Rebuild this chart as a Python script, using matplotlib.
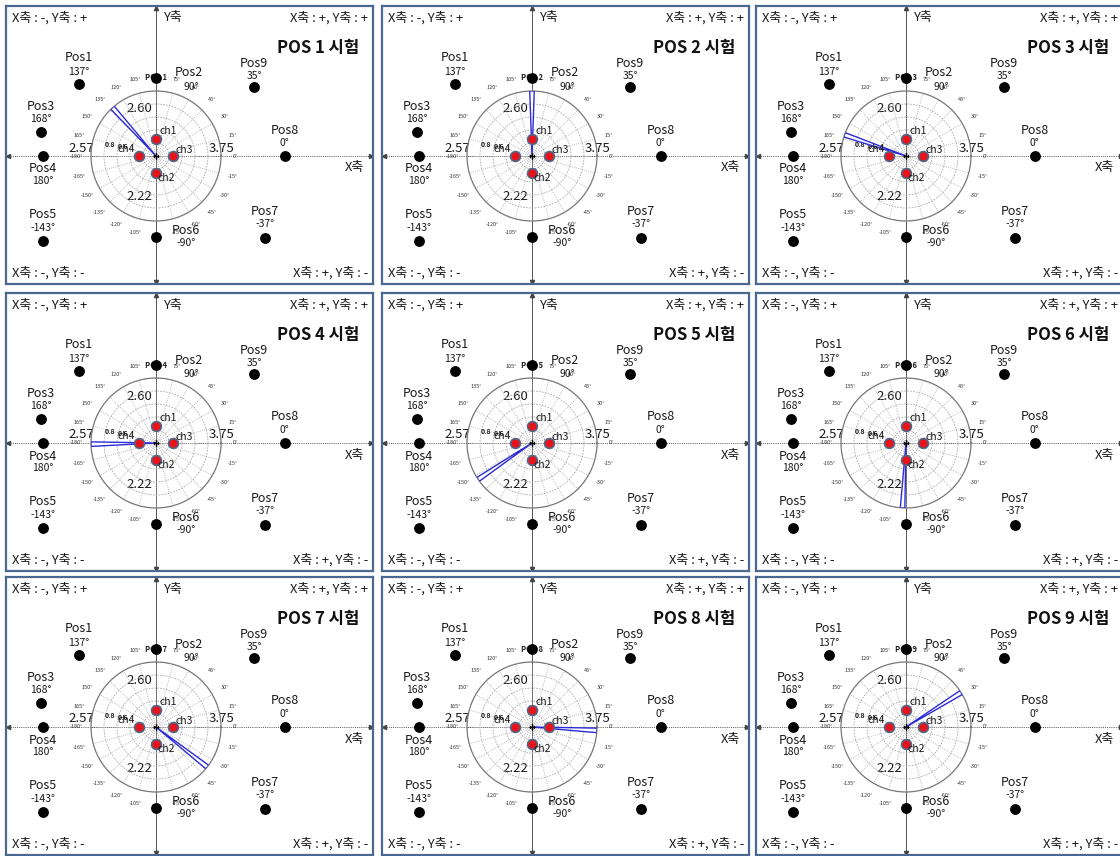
import numpy as np
import matplotlib
matplotlib.use("Agg")
import matplotlib.pyplot as plt

plt.rcParams['font.family'] = ['Noto Sans CJK KR', 'DejaVu Sans']

#####################################

# DATA

pos_names = ['Pos1', 'Pos2', 'Pos3', 'Pos4', 'Pos5', 'Pos6', 'Pos7', 'Pos8', 'Pos9']
pos_angle = [137, 90, 168, 180, -143, -90, -37, 0, 35]           # degrees
pos_dist = [1.63, 1.20, 1.81, 1.74, 2.17, 1.25, 2.10, 1.98, 1.84]  # in polar radius units

ch_names = ['ch1', 'ch2', 'ch3', 'ch4']
ch_angle = [90, -90, 0, 180]
ch_dist = [0.26, 0.26, 0.26, 0.26]
ch_values = ['2.60', '2.22', '3.75', '2.57']

test_titles = ['POS %d 시험' % (i + 1) for i in range(9)]
measured_angle = [132, 90, 161, -179, -146, -93, -38, -3, 32]   # blue needle per test

ring_ticks = [0.2, 0.4, 0.6, 0.8, 1.0]
ring_labels = ['', '', '0.6', '0.8', '']
theta_ticks = list(range(0, 360, 15))
theta_labels = ['%d°' % (a if a <= 165 else a - 360) for a in theta_ticks]

#####################################

# LAYOUT (pixels)

FW, FH = 1120, 856
col_left = [6, 382, 756]
row_top = [6, 293, 577]
PW, PH = 367, 278
CX, CY = 150, 150      # centre of the cross, from panel left / top
R = 65                 # polar radius in px

# label offsets (px) from each Pos dot: (name dx, name dy, angle dx, angle dy)
pos_lab_off = [
    (0, 26, 0, 12),
    (33, 5, 35, -9),
    (0, 25, 0, 13),
    (0, -13, 0, -25),
    (0, 26, 0, 13),
    (30, 7, 30, -6),
    (0, 27, 0, 14),
    (0, 26, 0, 13),
    (0, 24, 0, 11),
]
ch_lab_off = [(12, 8), (10, -5), (11, 6), (-13, 7)]
val_pos = [(-17, 47), (-17, -41), (66, 8), (-75, 8)]

border_c = '#4a6890'
txt_c = '#1a1a1a'

fig = plt.figure(figsize=(FW / 100, FH / 100), dpi=100)

for i in range(9):
    r, c = divmod(i, 3)
    left, top = col_left[c], row_top[r]

    # cartesian panel in px units, origin at the cross
    ax = fig.add_axes([left / FW, (FH - top - PH) / FH, PW / FW, PH / FH])
    ax.set_xlim(-CX, PW - CX)
    ax.set_ylim(-(PH - CY), CY)
    ax.set_xticks([])
    ax.set_yticks([])
    for s in ax.spines.values():
        s.set_color(border_c)
        s.set_linewidth(1.6)

    x0, x1 = -CX + 2, PW - CX - 2
    y0, y1 = -(PH - CY) + 2, CY - 2
    ax.plot([x0, x1], [0, 0], color='#555555', lw=0.7, ls=(0, (1, 1.2)))
    ax.plot([0, 0], [y0, y1], color='#555555', lw=0.7)
    ax.plot([x0], [0], marker='<', color='#444444', ms=3)
    ax.plot([x1], [0], marker='>', color='#444444', ms=3)
    ax.plot([0], [y1], marker='^', color='#444444', ms=3)
    ax.plot([0], [y0], marker='v', color='#444444', ms=3)

    qs = 9.3
    ax.text(-CX + 6, 138, 'X축 : -, Y축 : +', fontsize=qs, color=txt_c, ha='left', va='center')
    ax.text(PW - CX - 5, 138, 'X축 : +, Y축 : +', fontsize=qs, color=txt_c, ha='right', va='center')
    ax.text(-CX + 6, -117, 'X축 : -, Y축 : -', fontsize=qs, color=txt_c, ha='left', va='center')
    ax.text(PW - CX - 5, -117, 'X축 : +, Y축 : -', fontsize=qs, color=txt_c, ha='right', va='center')
    ax.text(8, 138, 'Y축', fontsize=qs, color=txt_c, ha='left', va='center')
    ax.text(189, -12, 'X축', fontsize=qs, color=txt_c, ha='left', va='center')
    ax.text(203, 108, test_titles[i], fontsize=12, fontweight='bold', color='#111111',
            ha='right', va='center')

    # polar inset
    pcx = left + CX
    pcy = FH - (top + CY)
    pax = fig.add_axes([(pcx - R) / FW, (pcy - R) / FH, 2 * R / FW, 2 * R / FH],
                       projection='polar')
    pax.set_facecolor('none')
    pax.set_ylim(0, 1)
    pax.set_thetagrids(theta_ticks, labels=theta_labels, fontsize=4, color='#333333')
    pax.set_rgrids(ring_ticks, labels=ring_labels, angle=171, fontsize=5,
                   fontweight='bold', color='#222222')
    pax.tick_params(axis='x', pad=0)
    pax.xaxis.grid(True, color='#a8a8a8', ls=(0, (1, 1.5)), lw=0.6)
    pax.yaxis.grid(True, color='#a8a8a8', ls=(0, (2, 1.5)), lw=0.6)
    pax.spines['polar'].set_color('#7a7a7a')
    pax.spines['polar'].set_linewidth(0.9)

    # measured direction needle
    pax.bar(np.deg2rad(measured_angle[i]), 1.0, width=np.deg2rad(4), bottom=0,
            facecolor='white', edgecolor='#2b2bd6', linewidth=1.0, zorder=5)

    # small "POS n" tag under the Pos2 dot
    pax.annotate('POS %d' % (i + 1), xy=(np.deg2rad(pos_angle[1]), pos_dist[1]),
                 xytext=(0, 0), textcoords='offset pixels', fontsize=5.5,
                 fontweight='bold', ha='center', va='center', color='#222222',
                 annotation_clip=False, zorder=6)

    # Pos dots and labels
    th = np.deg2rad(pos_angle)
    pax.scatter(th, pos_dist, s=46, c='black', zorder=8, clip_on=False)
    for k in range(9):
        ndx, ndy, adx, ady = pos_lab_off[k]
        pax.annotate(pos_names[k], xy=(th[k], pos_dist[k]), xytext=(ndx, ndy),
                     textcoords='offset pixels', fontsize=9, ha='center', va='center',
                     color=txt_c, annotation_clip=False)
        pax.annotate('%d°' % pos_angle[k], xy=(th[k], pos_dist[k]), xytext=(adx, ady),
                     textcoords='offset pixels', fontsize=7.5, ha='center', va='center',
                     color=txt_c, annotation_clip=False)

    # channels
    cth = np.deg2rad(ch_angle)
    pax.scatter(cth, ch_dist, s=50, c='#e8141c', edgecolors='#4e6688', linewidths=1.2,
                zorder=7, clip_on=False)
    for k in range(4):
        pax.annotate(ch_names[k], xy=(cth[k], ch_dist[k]), xytext=ch_lab_off[k],
                     textcoords='offset pixels', fontsize=7.5, ha='center', va='center',
                     color=txt_c, annotation_clip=False, zorder=9)
    pax.plot([0], [0], marker='+', color='black', ms=5, mew=1, zorder=9)

    # channel values
    for k in range(4):
        ax.text(val_pos[k][0], val_pos[k][1], ch_values[k], fontsize=9.5, color=txt_c,
                ha='center', va='center', zorder=10)

fig.savefig('out.png', dpi=100, facecolor='white')
